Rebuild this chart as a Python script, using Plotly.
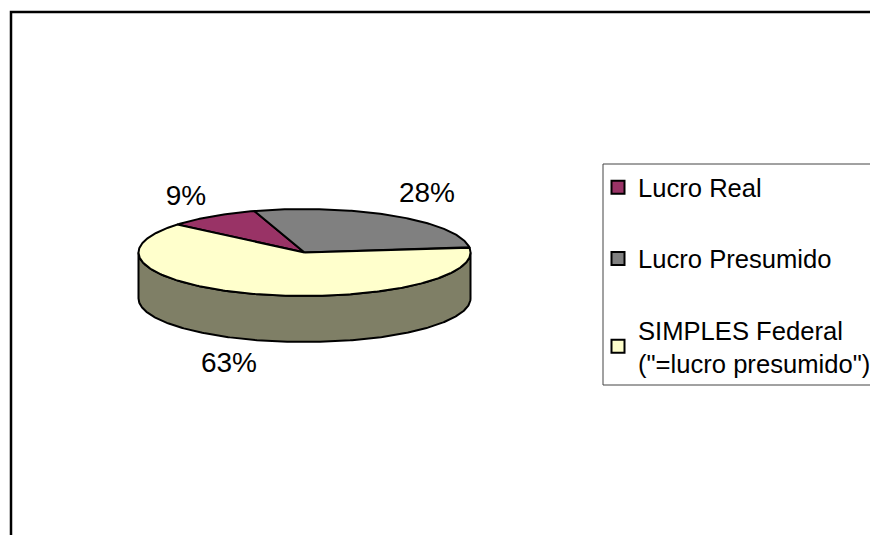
import math
import plotly.graph_objects as go

# ---- data ----
labels = ["Lucro Real", "Lucro Presumido", 'SIMPLES Federal<br>("=lucro presumido")']
values = [9, 28, 63]
colors = ["#993366", "#808080", "#FFFFCC"]
side_colors = ["#4C1933", "#404040", "#7F7F66"]

# ---- pie geometry (pixel-space axes) ----
W, H = 870, 535
CX, CY, RX, RY, DEPTH = 304.5, 252.5, 166, 43.5, 46
START_DEG = -50
LABEL_POS = [(186, 198), (427, 195), (229, 365)]
OUTLINE = 2.0


def ellipse(a0, a1, dy=0.0, n=None):
    n = n or max(2, int(abs(a1 - a0) * 1.5))
    out = []
    for i in range(n + 1):
        t = math.radians(a0 + (a1 - a0) * i / n)
        out.append((CX + RX * math.sin(t), CY + dy - RY * math.cos(t)))
    return out


fig = go.Figure()
total = sum(values)
bounds, a = [], START_DEG
for v in values:
    bounds.append((a, a + 360 * v / total))
    a += 360 * v / total

# side walls (front half of the rim only)
for (a0, a1), sc in zip(bounds, side_colors):
    for shift in (0, 360, -360):
        lo, hi = max(a0 + shift, 90), min(a1 + shift, 270)
        if lo < hi:
            top = ellipse(lo, hi)
            bot = ellipse(hi, lo, DEPTH)
            pts = top + bot + [top[0]]
            fig.add_trace(go.Scatter(
                x=[p[0] for p in pts], y=[p[1] for p in pts], mode="lines",
                fill="toself", fillcolor=sc, line=dict(color="black", width=OUTLINE),
                showlegend=False, hoverinfo="skip"))

# top faces
for (a0, a1), c in zip(bounds, colors):
    arc = ellipse(a0, a1)
    pts = [(CX, CY)] + arc + [(CX, CY)]
    fig.add_trace(go.Scatter(
        x=[p[0] for p in pts], y=[p[1] for p in pts], mode="lines",
        fill="toself", fillcolor=c, line=dict(color="black", width=OUTLINE),
        showlegend=False, hoverinfo="skip"))

# percentage labels
fig.add_trace(go.Scatter(
    x=[p[0] for p in LABEL_POS], y=[p[1] for p in LABEL_POS], mode="text",
    text=[f"{round(100 * v / total)}%" for v in values],
    textposition="middle center",
    textfont=dict(family="Liberation Sans", size=28, color="black"),
    showlegend=False, hoverinfo="skip"))

# legend entries
for i, (name, c) in enumerate(zip(labels, colors)):
    fig.add_trace(go.Scatter(
        x=[None], y=[None], mode="markers", name=name, legendgroup=str(i),
        marker=dict(symbol="square", size=13, color=c, line=dict(color="black", width=2))))

fig.update_layout(
    width=W, height=H, margin=dict(l=0, r=0, t=0, b=0, autoexpand=False),
    paper_bgcolor="white", plot_bgcolor="white",
    xaxis=dict(range=[0, W], visible=False, fixedrange=True),
    yaxis=dict(range=[H, 0], visible=False, fixedrange=True),
    legend=dict(x=598 / W, xanchor="left", y=1 - 164 / H, yanchor="top",
                bgcolor="rgba(0,0,0,0)", borderwidth=0, tracegroupgap=35,
                font=dict(family="Liberation Sans", size=25.6, color="black")),
    shapes=[
        dict(type="rect", xref="x", yref="y", x0=11, y0=12, x1=W + 20, y1=H + 20,
             line=dict(color="black", width=2.5), layer="below"),
        dict(type="rect", xref="x", yref="y", x0=603, y0=164, x1=W + 20, y1=385,
             line=dict(color="#444444", width=1), layer="below"),
    ],
    showlegend=True,
)

fig.write_html("out.html", config={"displayModeBar": False},
               post_script="document.body.style.margin='0';document.body.style.overflow='hidden';")
